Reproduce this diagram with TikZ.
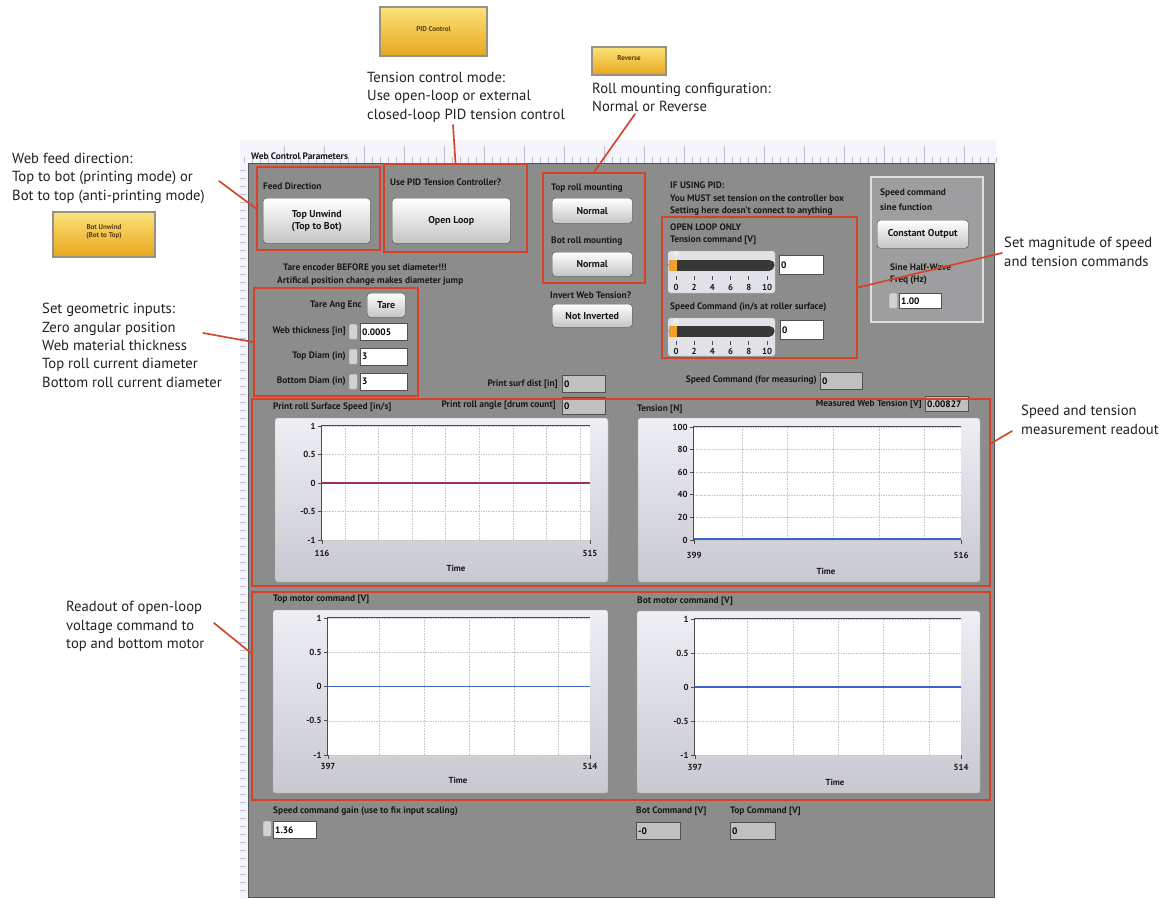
\documentclass[tikz,border=0pt]{standalone}
\usepackage{fontspec}
\setmainfont{PT Sans}
\usetikzlibrary{fit,calc}
\newlength\pxu
\setlength\pxu{0.03cm}
\definecolor{boxred}{RGB}{214,66,40}
\definecolor{panelgray}{RGB}{140,140,140}
\definecolor{sinefill}{RGB}{158,158,160}
\definecolor{chtop}{RGB}{238,238,245}
\definecolor{chbot}{RGB}{200,200,208}
\definecolor{btnbot}{RGB}{196,196,196}
\definecolor{btnedge}{RGB}{80,80,80}
\definecolor{yeltop}{RGB}{252,226,122}
\definecolor{yelbot}{RGB}{232,166,28}
\definecolor{yeledge}{RGB}{150,146,132}
\definecolor{yeltext}{RGB}{90,60,20}
\definecolor{annotext}{RGB}{35,31,32}
\definecolor{lbltext}{RGB}{25,25,25}
\definecolor{indfill}{RGB}{192,192,192}
\definecolor{rulerfill}{RGB}{244,244,250}
\definecolor{rulertick}{RGB}{190,190,215}
\definecolor{spdline}{RGB}{150,50,90}
\definecolor{tenline}{RGB}{60,100,200}
\definecolor{slfill}{RGB}{225,225,232}
\definecolor{sltrack}{RGB}{55,55,55}
\definecolor{slthumb}{RGB}{240,160,40}
\newcommand\annofont{\fontsize{12.5}{15.7}\selectfont}
\newcommand\lblfont{\fontsize{8}{9.6}\selectfont\bfseries}
\newcommand\btnfont{\fontsize{8.5}{10}\selectfont\bfseries}
\newcommand\tickfont{\fontsize{7.5}{9}\selectfont\bfseries}
\newcommand\yelfont{\fontsize{6}{7}\selectfont\bfseries}
\tikzstyle{anno} = [font=\annofont,text=annotext,align=left,inner sep=0pt,anchor=north west]
\tikzstyle{lbl} = [font=\lblfont,text=lbltext,inner sep=0pt,anchor=west]
\tikzstyle{lblr} = [lbl,anchor=east]
\tikzstyle{panel} = [fill=panelgray,draw=panelgray!60!black,line width=0.6pt,inner sep=0pt]
\tikzstyle{redbox} = [draw=boxred,line width=1.6pt,inner sep=0pt]
\tikzstyle{leader} = [draw=boxred,line width=1.4pt,line cap=round]
\tikzstyle{btn} = [draw=btnedge,rounded corners=2.5pt,top color=white,bottom color=btnbot,font=\btnfont,text=lbltext,inner sep=0pt,align=center,anchor=north west]
\tikzstyle{yelbtn} = [draw=yeledge,line width=1.8pt,top color=yeltop,bottom color=yelbot,font=\yelfont,text=yeltext,inner sep=0pt,align=center]
\tikzstyle{ctrlfield} = [draw=btnedge,fill=white,font=\lblfont,text=black,inner xsep=2\pxu,inner ysep=0pt,minimum height=17\pxu,align=left,anchor=north west]
\tikzstyle{indfield} = [ctrlfield,fill=indfill]
\tikzstyle{spin} = [draw=gray!70,fill=gray!35,rounded corners=1pt,inner sep=0pt,minimum width=8\pxu,minimum height=15\pxu,anchor=north west]
\tikzstyle{sinebox} = [fill=sinefill,draw=gray!25,line width=1pt,inner sep=0pt]
\tikzstyle{chartbg} = [draw=gray!70,top color=chtop,bottom color=chbot,rounded corners=2pt,inner sep=0pt]
\tikzstyle{plotarea} = [fill=white,inner sep=0pt]
\tikzstyle{gridln} = [draw=gray!45,densely dotted,line width=0.4pt]
\tikzstyle{axisln} = [draw=gray!60!black,line width=0.8pt]
\tikzstyle{tick} = [font=\tickfont,text=lbltext,inner sep=1pt]
\tikzstyle{slframe} = [draw=gray!60,fill=slfill,rounded corners=2pt,inner sep=0pt]
\tikzstyle{track} = [draw=sltrack,line width=11\pxu,line cap=round]

\begin{document}
\begin{tikzpicture}[x=0.03cm,y=-0.03cm]
\useasboundingbox (0,0) rectangle (1175,899);

% front panel
\fill[rulerfill] (240,140) rectangle (996,163);
\fill[rulerfill] (240,163) rectangle (248,899);
\foreach \x in {244,252,...,996} \draw[rulertick] (\x,157) -- (\x,163);
\foreach \x in {284,324,...,996} \draw[rulertick] (\x,146) -- (\x,163);
\foreach \y in {170,178,...,896} \draw[rulertick] (240,\y) -- (246,\y);
\node[panel,fit={(248,163) (994,897)}] (panel) {};
\node[lbl] (title) at (251,156) {Web Control Parameters};

\node[lbl] (fdlbl) at (263,186) {Feed Direction};
\node[btn,minimum width=107\pxu,minimum height=45\pxu] (fdbtn) at (263,198) {Top Unwind\\(Top to Bot)};
\node[lbl] (pidlbl) at (390,182) {Use PID Tension Controller?};
\node[btn,minimum width=118\pxu,minimum height=45\pxu] (pidbtn) at (392,198) {Open Loop};

\node[lbl] (toplbl) at (551,188) {Top roll mounting};
\node[btn,minimum width=80\pxu,minimum height=25\pxu] (topbtn) at (552,198) {Normal};
\node[lbl] (botlbl) at (551,241) {Bot roll mounting};
\node[btn,minimum width=80\pxu,minimum height=24\pxu] (botbtn) at (552,252) {Normal};
\node[lbl] (invlbl) at (550,295) {Invert Web Tension?};
\node[btn,minimum width=80\pxu,minimum height=23\pxu] (invbtn) at (552,304) {Not Inverted};

\node[lbl] (tare1) at (283,268) {Tare encoder BEFORE you set diameter!!!};
\node[lbl] (tare2) at (277,281) {Artifical position change makes diameter jump};

\node[lblr] (tarelbl) at (362,305) {Tare Ang Enc};
\node[btn,minimum width=38\pxu,minimum height=24\pxu] (tarebtn) at (367,293) {Tare};
\node[lblr] (thklbl) at (346,331) {Web thickness [in]};
\node[spin] (thkspin) at (349,324) {};
\node[ctrlfield,text width=43\pxu] (thkval) at (360,323) {0.0005};
\node[lblr] (tdlbl) at (346,356) {Top Diam (in)};
\node[spin] (tdspin) at (349,349) {};
\node[ctrlfield,text width=43\pxu] (tdval) at (360,348) {3};
\node[lblr] (bdlbl) at (346,381) {Bottom Diam (in)};
\node[spin] (bdspin) at (349,374) {};
\node[ctrlfield,text width=43\pxu] (bdval) at (360,373) {3};

\node[lblr] (surflbl) at (558,384) {Print surf dist [in]};
\node[indfield,text width=39\pxu] (surfval) at (562,375) {0};
\node[lblr] (anglbl) at (556,405) {Print roll angle [drum count]};
\node[indfield,text width=39\pxu] (angval) at (562,397) {0};

\node[lbl] (pidn1) at (670,185) {IF USING PID:};
\node[lbl] (pidn2) at (670,198) {You MUST set tension on the controller box};
\node[lbl] (pidn3) at (670,211) {Setting here doesn't connect to anything};

\node[lbl] (ol1) at (670,227) {OPEN LOOP ONLY};
\node[lbl] (ol2) at (670,240) {Tension command [V]};
\node[slframe,fit={(668,251) (775,293)}] (tsl) {};
\draw[track] (674,265) -- (769,265);
\fill[slthumb] (669,259.5) rectangle (677,270.5);
\fill[white!85!gray] (676,254) circle[radius=3\pxu];
\foreach \v [count=\i from 0] in {0,2,...,10} {
  \draw[axisln] ({676+\i*18.2},276) -- ({676+\i*18.2},280);
  \node[tick] (tsl\i) at ({676+\i*18.2},287) {\v};
}
\node[ctrlfield,text width=40\pxu,minimum height=19\pxu] (tval) at (779,255) {0};
\node[lbl] (ol3) at (670,307) {Speed Command (in/s at roller surface)};
\node[slframe,fit={(668,318) (775,356)}] (ssl) {};
\draw[track] (674,331) -- (769,331);
\fill[slthumb] (669,325.5) rectangle (677,336.5);
\fill[white!85!gray] (676,321) circle[radius=3\pxu];
\foreach \v [count=\i from 0] in {0,2,...,10} {
  \draw[axisln] ({676+\i*18.2},341) -- ({676+\i*18.2},345);
  \node[tick] (ssl\i) at ({676+\i*18.2},351) {\v};
}
\node[ctrlfield,text width=39\pxu,minimum height=19\pxu] (sval) at (780,320) {0};
\node[lblr] (measlbl) at (817,380) {Speed Command (for measuring)};
\node[indfield,text width=38\pxu] (measval) at (820,372) {0};

\node[sinebox,fit={(871,177) (983,322)}] (sinebox) {};
\node[lbl] (sn1) at (880,193) {Speed command};
\node[lbl] (sn2) at (880,207) {sine function};
\node[btn,minimum width=91\pxu,minimum height=28\pxu] (cobtn) at (877,220) {Constant Output};
\node[lbl] (sn3) at (890,267) {Sine Half-Wave};
\node[lbl] (sn4) at (890,280) {Freq (Hz)};
\node[spin] (fspin) at (889,293) {};
\node[ctrlfield,text width=38\pxu,minimum height=15\pxu] (fval) at (899,293) {1.00};

\node[lblr] (mwtlbl) at (922,404) {Measured Web Tension [V]};
\node[indfield,text width=39\pxu,minimum height=15\pxu] (mwtval) at (925,396) {0.00827};

% charts
\node[lbl] (spdlbl) at (273,407) {Print roll Surface Speed [in/s]};
\node[chartbg,fit={(275,418) (608,582)}] (spdfr) {};
\node[plotarea,fit={(322,426) (590,540)}] (spdplot) {};
\foreach \g in {150,200,...,500} \draw[gridln] ({322+(\g-116)/399*268},426) -- ({322+(\g-116)/399*268},540);
\foreach \v [count=\i from 0] in {1,0.5,0,-0.5,-1} {
  \draw[gridln] (322,{426+\i*28.5}) -- (590,{426+\i*28.5});
  \draw[axisln] (318,{426+\i*28.5}) -- (322,{426+\i*28.5});
  \node[tick,anchor=east] (spdy\i) at (317,{426+\i*28.5}) {\v};
}
\draw[axisln] (spdplot.south west) -- (spdplot.north west) -- (spdplot.north east);
\draw[spdline,line width=1pt] (322,483) -- (590,483);
\draw[axisln] (322,540) -- (322,544) (590,540) -- (590,544);
\node[tick] (spdx0) at (322,553) {116};
\node[tick] (spdx1) at (590,553) {515};
\node[tick] (spdt) at (456,568) {Time};

\node[lbl] (tenlbl) at (637,409) {Tension [N]};
\node[chartbg,fit={(638,418) (980,582)}] (tenfr) {};
\node[plotarea,fit={(694,427) (961,540)}] (tenplot) {};
\foreach \g in {420,440,...,500} \draw[gridln] ({694+(\g-399)/117*267},427) -- ({694+(\g-399)/117*267},540);
\foreach \v [count=\i from 0] in {100,80,60,40,20,0} {
  \draw[gridln] (694,{427+\i*22.6}) -- (961,{427+\i*22.6});
  \draw[axisln] (690,{427+\i*22.6}) -- (694,{427+\i*22.6});
  \node[tick,anchor=east] (teny\i) at (689,{427+\i*22.6}) {\v};
}
\draw[axisln] (tenplot.south west) -- (tenplot.north west) -- (tenplot.north east);
\draw[tenline,line width=1pt] (694,539) -- (961,539);
\draw[axisln] (694,540) -- (694,544) (961,540) -- (961,544);
\node[tick] (tenx0) at (694,555) {399};
\node[tick] (tenx1) at (961,555) {516};
\node[tick] (tent) at (826,571) {Time};

\node[lbl] (tmlbl) at (273,599) {Top motor command [V]};
\node[chartbg,fit={(273,610) (608,793)}] (tmfr) {};
\node[plotarea,fit={(328,618) (590,755)}] (tmplot) {};
\foreach \g in {420,440,...,500} \draw[gridln] ({328+(\g-397)/117*262},618) -- ({328+(\g-397)/117*262},755);
\foreach \v [count=\i from 0] in {1,0.5,0,-0.5,-1} {
  \draw[gridln] (328,{618+\i*34.25}) -- (590,{618+\i*34.25});
  \draw[axisln] (324,{618+\i*34.25}) -- (328,{618+\i*34.25});
  \node[tick,anchor=east] (tmy\i) at (323,{618+\i*34.25}) {\v};
}
\draw[axisln] (tmplot.south west) -- (tmplot.north west) -- (tmplot.north east);
\draw[tenline,line width=1pt] (328,686.5) -- (590,686.5);
\draw[axisln] (328,755) -- (328,759) (590,755) -- (590,759);
\node[tick] (tmx0) at (328,766) {397};
\node[tick] (tmx1) at (590,766) {514};
\node[tick] (tmt) at (458,780) {Time};

\node[lbl] (bmlbl) at (637,601) {Bot motor command [V]};
\node[chartbg,fit={(637,611) (980,793)}] (bmfr) {};
\node[plotarea,fit={(695,619) (961,755)}] (bmplot) {};
\foreach \g in {420,440,...,500} \draw[gridln] ({695+(\g-397)/117*266},619) -- ({695+(\g-397)/117*266},755);
\foreach \v [count=\i from 0] in {1,0.5,0,-0.5,-1} {
  \draw[gridln] (695,{619+\i*34}) -- (961,{619+\i*34});
  \draw[axisln] (691,{619+\i*34}) -- (695,{619+\i*34});
  \node[tick,anchor=east] (bmy\i) at (690,{619+\i*34}) {\v};
}
\draw[axisln] (bmplot.south west) -- (bmplot.north west) -- (bmplot.north east);
\draw[tenline,line width=1pt] (695,687) -- (961,687);
\draw[axisln] (695,755) -- (695,759) (961,755) -- (961,759);
\node[tick] (bmx0) at (695,767) {397};
\node[tick] (bmx1) at (961,767) {514};
\node[tick] (bmt) at (835,782) {Time};

\node[lbl] (gainlbl) at (273,811) {Speed command gain (use to fix input scaling)};
\node[spin] (gainspin) at (263,821) {};
\node[ctrlfield,text width=39\pxu] (gainval) at (273,821) {1.36};
\node[lbl] (bclbl) at (636,811) {Bot Command [V]};
\node[indfield,text width=40\pxu] (bcval) at (636,822) {-0};
\node[lbl] (tclbl) at (730,811) {Top Command [V]};
\node[indfield,text width=41\pxu] (tcval) at (730,822) {0};

% highlighted groups
\node[redbox,fit={(257,167) (380,250)}] (fdbox) {};
\node[redbox,fit={(384,164) (527,252)}] (pidbox) {};
\node[redbox,fit={(543,173) (645,283)}] (rollbox) {};
\node[redbox,fit={(254,288) (418,396)}] (geombox) {};
\node[redbox,fit={(662,217) (857,358)}] (olbox) {};
\node[redbox,fit={(252,399) (990,586)}] (speedbox) {};
\node[redbox,fit={(252,592) (990,800)}] (motorbox) {};

% alternate button states
\node[yelbtn,fit={(380,7) (487,56)}] (pidyel) {PID Control};
\node[yelbtn,fit={(592,47) (666,75)}] (revyel) {Reverse};
\node[yelbtn,fit={(53,212) (155,257)}] (botyel) {Bot Unwind\\(Bot to Top)};

% notes
\node[anno] (pidnote) at (367,72) {Tension control mode:\\Use open-loop or external\\closed-loop PID tension control};
\node[anno] (rollnote) at (592,83) {Roll mounting configuration:\\Normal or Reverse};
\node[anno] (feednote) at (12,153) {Web feed direction:\\Top to bot (printing mode) or\\Bot to top (anti-printing mode)};
\node[anno] (geomnote) at (42,303) {Set geometric inputs:\\Zero angular position\\Web material thickness\\Top roll current diameter\\Bottom roll current diameter};
\node[anno] (magnote) at (1004,237) {Set magnitude of speed\\and tension commands};
\node[anno] (measnote) at (1021,405) {Speed and tension\\measurement readout};
\node[anno] (motornote) at (66,601) {Readout of open-loop\\voltage command to\\top and bottom motor};

\coordinate (pidtip) at (453,125);
\coordinate (rolltip) at (635,114);
\coordinate (feedtip) at (219,181);
\coordinate (geomtip) at (203,333);
\coordinate (magtip) at (1002,253);
\coordinate (meastip) at (1012,431);
\coordinate (motortip) at (214,623);
\draw[leader] (pidtip) -- (pidbox.north);
\draw[leader] (rolltip) -- (rollbox.north);
\draw[leader] (feedtip) -- (fdbox.west);
\draw[leader] (geomtip) -- (geombox.west);
\draw[leader] (magtip) -- (olbox.east);
\draw[leader] (meastip) -- ($(speedbox.east)+(0,-49)$);
\draw[leader] (motortip) -- ($(motorbox.north west)+(0,62)$);

\end{tikzpicture}
\end{document}
